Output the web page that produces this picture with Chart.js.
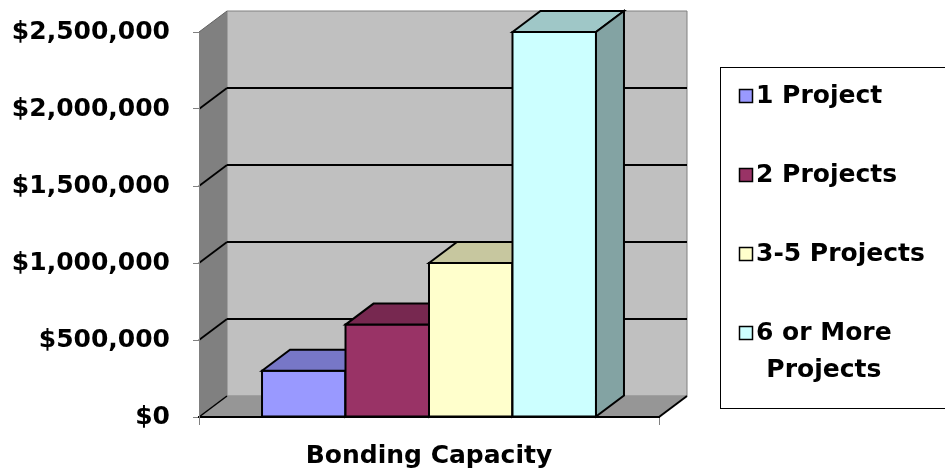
<!DOCTYPE html>
<html>
<head>
<meta charset="utf-8">
<script src="https://cdn.jsdelivr.net/npm/chart.js@4/dist/chart.umd.min.js"></script>
<style>
  html, body { margin: 0; padding: 0; background: #ffffff; }
  #wrap { width: 945px; height: 473px; }
</style>
</head>
<body>
<div id="wrap"><canvas id="chart" width="945" height="473"></canvas></div>
<script>
// Chart data
const categories = ['Bonding Capacity'];
const seriesNames = [['1 Project'], ['2 Projects'], ['3-5 Projects'], ['6 or More', 'Projects']];
const seriesValues = [[300000], [600000], [1000000], [2500000]];
const seriesColors = ['#9999ff', '#993366', '#ffffcc', '#ccffff'];
const yTicks = [0, 500000, 1000000, 1500000, 2000000, 2500000];

const FONT = { family: 'DejaVu Sans', size: 25, weight: 'bold' };
const DEPTH_X = 28;   // oblique depth of the 3-D box
const DEPTH_Y = -21;

function shade(hex, f) {
  const n = parseInt(hex.slice(1), 16);
  const r = Math.round(((n >> 16) & 255) * f);
  const g = Math.round(((n >> 8) & 255) * f);
  const b = Math.round((n & 255) * f);
  return `rgb(${r},${g},${b})`;
}

function poly(ctx, pts, fill, stroke, lw) {
  ctx.beginPath();
  ctx.moveTo(pts[0][0], pts[0][1]);
  for (let i = 1; i < pts.length; i++) ctx.lineTo(pts[i][0], pts[i][1]);
  ctx.closePath();
  if (fill) { ctx.fillStyle = fill; ctx.fill(); }
  if (stroke) { ctx.strokeStyle = stroke; ctx.lineWidth = lw || 1; ctx.lineJoin = 'miter'; ctx.stroke(); }
}

function line(ctx, x1, y1, x2, y2, color, lw) {
  ctx.beginPath();
  ctx.moveTo(x1, y1);
  ctx.lineTo(x2, y2);
  ctx.strokeStyle = color;
  ctx.lineWidth = lw;
  ctx.stroke();
}

// Walls, floor and gridlines of the 3-D plot box
const walls3d = {
  id: 'walls3d',
  beforeDraw(chart) {
    const { ctx, chartArea: a, scales: { y } } = chart;
    const dx = DEPTH_X, dy = DEPTH_Y;
    ctx.save();
    // back wall
    poly(ctx, [[a.left + dx, a.top + dy], [a.right + dx, a.top + dy],
               [a.right + dx, a.bottom + dy], [a.left + dx, a.bottom + dy]], '#c0c0c0', '#808080', 1);
    // side wall
    poly(ctx, [[a.left, a.top], [a.left + dx, a.top + dy],
               [a.left + dx, a.bottom + dy], [a.left, a.bottom]], '#808080');
    // floor
    poly(ctx, [[a.left, a.bottom], [a.left + dx, a.bottom + dy],
               [a.right + dx, a.bottom + dy], [a.right, a.bottom]], '#969696');
    line(ctx, a.right, a.bottom, a.right + dx, a.bottom + dy, '#000000', 2);
    line(ctx, a.left, a.bottom, a.left + dx, a.bottom + dy, '#000000', 1.5);
    // gridlines
    yTicks.forEach(v => {
      const py = y.getPixelForValue(v);
      if (v === 0) return;
      const top = v === yTicks[yTicks.length - 1];
      const col = top ? '#606060' : '#000000';
      const lw = top ? 1 : 1.8;
      line(ctx, a.left, py, a.left + dx, py + dy, col, lw);
      if (!top) line(ctx, a.left + dx, py + dy, a.right + dx, py + dy, col, lw);
    });
    ctx.restore();
  }
};

// Front, top and side faces of each bar, painted left to right
const bars3d = {
  id: 'bars3d',
  afterDatasetsDraw(chart) {
    const { ctx } = chart;
    const dx = DEPTH_X, dy = DEPTH_Y;
    ctx.save();
    chart.data.datasets.forEach((ds, i) => {
      const meta = chart.getDatasetMeta(i);
      meta.data.forEach(el => {
        const { x, y, base, width } = el.getProps(['x', 'y', 'base', 'width'], true);
        const l = x - width / 2, r = x + width / 2;
        const col = seriesColors[i];
        el.draw(ctx);
        poly(ctx, [[l, y], [r, y], [r, base], [l, base]], null, '#000000', 2);
        poly(ctx, [[l, y], [l + dx, y + dy], [r + dx, y + dy], [r, y]], shade(col, 0.78), '#000000', 2);
        poly(ctx, [[r, y], [r + dx, y + dy], [r + dx, base + dy], [r, base]], shade(col, 0.64), '#000000', 2);
      });
    });
    ctx.restore();
  }
};

// Framed legend on the right
const boxLegend = {
  id: 'boxLegend',
  afterDraw(chart) {
    const { ctx } = chart;
    ctx.save();
    ctx.strokeStyle = '#000000';
    ctx.lineWidth = 1;
    ctx.strokeRect(720.5, 67.5, 240, 341);
    ctx.font = `bold ${FONT.size}px "${FONT.family}"`;
    ctx.textBaseline = 'middle';
    ctx.fillStyle = '#000000';
    seriesNames.forEach((lines, i) => {
      const cy = 96 + i * 79;
      ctx.fillStyle = seriesColors[i];
      ctx.fillRect(739.5, cy - 6.5, 13, 13);
      ctx.strokeStyle = '#000000';
      ctx.lineWidth = 1.5;
      ctx.strokeRect(739.5, cy - 6.5, 13, 13);
      ctx.fillStyle = '#000000';
      ctx.textAlign = 'left';
      ctx.fillText(lines[0], 756, cy);
      if (lines.length > 1) {
        const w = ctx.measureText(lines[0]).width;
        ctx.textAlign = 'center';
        for (let k = 1; k < lines.length; k++) ctx.fillText(lines[k], 756 + w / 2, cy + 37 * k);
      }
    });
    ctx.restore();
  }
};

new Chart(document.getElementById('chart'), {
  type: 'bar',
  data: {
    labels: categories,
    datasets: seriesNames.map((name, i) => ({
      label: name.join(' '),
      data: seriesValues[i],
      backgroundColor: seriesColors[i],
      borderWidth: 0
    }))
  },
  options: {
    responsive: false,
    devicePixelRatio: 1,
    animation: false,
    categoryPercentage: 0.726,
    barPercentage: 1,
    layout: { padding: { top: 32, right: 286, bottom: 0, left: 0 } },
    plugins: { legend: { display: false }, tooltip: { enabled: false } },
    scales: {
      x: {
        offset: true,
        grid: { offset: true, drawOnChartArea: false, drawTicks: true, tickLength: 8, color: '#808080' },
        border: { display: true, color: '#000000', width: 2 },
        ticks: { font: FONT, color: '#000000', padding: 16 },
        afterFit(s) { s.height = 56; }
      },
      y: {
        min: 0,
        max: yTicks[yTicks.length - 1],
        afterBuildTicks(s) { s.ticks = yTicks.map(v => ({ value: v })); },
        grid: { drawOnChartArea: false, drawTicks: true, tickLength: 6, color: '#808080' },
        border: { display: true, color: '#808080', width: 1 },
        ticks: {
          font: FONT,
          color: '#000000',
          padding: 23,
          callback: v => '$' + Number(v).toLocaleString('en-US')
        },
        afterFit(s) { s.width = 199; s.paddingTop = 0; s.paddingBottom = 0; }
      }
    }
  },
  plugins: [walls3d, bars3d, boxLegend]
});
</script>
</body>
</html>
